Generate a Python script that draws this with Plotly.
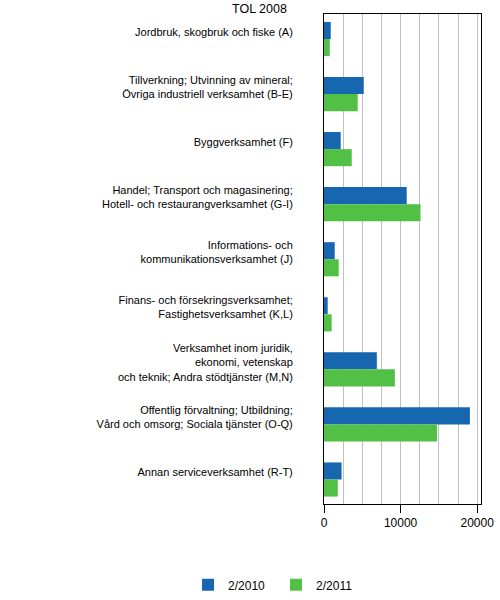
import plotly.graph_objects as go

categories = [
    "Jordbruk, skogbruk och fiske (A)",
    "Tillverkning; Utvinning av mineral;<br>Övriga industriell verksamhet (B-E)",
    "Byggverksamhet (F)",
    "Handel; Transport och magasinering;<br>Hotell- och restaurangverksamhet (G-I)",
    "Informations- och<br>kommunikationsverksamhet (J)",
    "Finans- och försekringsverksamhet;<br>Fastighetsverksamhet (K,L)",
    "Verksamhet inom juridik,<br>ekonomi, vetenskap<br>och teknik; Andra stödtjänster (M,N)",
    "Offentlig förvaltning; Utbildning;<br>Vård och omsorg; Sociala tjänster (O-Q)",
    "Annan serviceverksamhet (R-T)",
]
values_2010 = [880, 5190, 2180, 10800, 1400, 480, 6900, 19050, 2300]
values_2011 = [750, 4400, 3620, 12600, 1920, 1000, 9250, 14750, 1800]
series_names = ["2/2010", "2/2011"]

BLUE = "#1767b0"
GREEN = "#52bf45"
GRID = "#c0c0c0"
FONT = "Liberation Sans, Arial, sans-serif"

bar_w = 0.31

fig = go.Figure()
fig.add_trace(go.Bar(
    y=categories, x=values_2010, name=series_names[0], orientation="h",
    marker=dict(color=BLUE, line=dict(width=0)),
    width=bar_w, offset=-0.183,
))
fig.add_trace(go.Bar(
    y=categories, x=values_2011, name=series_names[1], orientation="h",
    marker=dict(color=GREEN, line=dict(width=0)),
    width=bar_w, offset=0.127,
))

fig.update_layout(
    width=500, height=600,
    margin=dict(l=324, r=19, t=14, b=96, autoexpand=False),
    paper_bgcolor="white", plot_bgcolor="white",
    barmode="overlay",
    font=dict(family=FONT, size=11, color="#000000"),
    showlegend=True,
    legend=dict(
        orientation="h", xref="paper", yref="paper",
        x=-0.866, y=-0.165, xanchor="left", yanchor="middle",
        font=dict(size=12), traceorder="normal", entrywidth=43,
    ),
    annotations=[dict(
        text="TOL 2008", xref="paper", yref="paper", x=-0.22, y=1.0,
        xanchor="right", yanchor="bottom", showarrow=False,
        font=dict(size=12.5), yshift=-4,
    )],
)

fig.update_xaxes(
    range=[0, 20500], dtick=10000, tick0=0, tickformat="d",
    showgrid=True, gridcolor=GRID, gridwidth=1,
    minor=dict(dtick=2500, showgrid=True, gridcolor=GRID, gridwidth=1),
    showline=True, linecolor="black", linewidth=1, mirror=True,
    ticks="outside", ticklen=8, tickcolor="black",
    tickfont=dict(size=12), zeroline=False, automargin=False,
)
fig.update_yaxes(
    type="category", range=[8.572, -0.327],
    showgrid=False, showline=True, linecolor="black", linewidth=1, mirror=True,
    ticks="", ticklabelstandoff=28, tickfont=dict(size=11), automargin=False,
)

fig.write_html("out.html", config={"displayModeBar": False},
               post_script="document.body.style.margin='0';")
